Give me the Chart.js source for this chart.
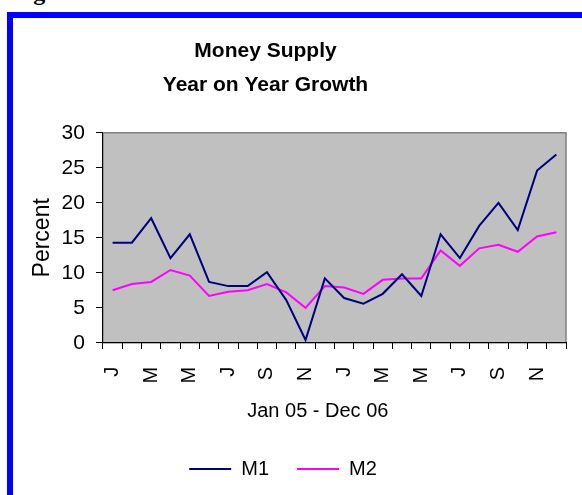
<!DOCTYPE html>
<html>
<head>
<meta charset="utf-8">
<script src="https://cdn.jsdelivr.net/npm/chart.js@4"></script>
<style>
  body { margin: 0; width: 582px; height: 495px; overflow: hidden; position: relative; background: #fff; }
  #frame { position: absolute; left: 7px; top: 12px; width: 700px; height: 600px; border: 6px solid #0000ff; }
  #cap { position: absolute; left: 12px; top: -20px; font: bold 24px/24px "Liberation Serif", serif; color: #000; }
  #moneyChart { position: absolute; left: 0; top: 0; }
</style>
</head>
<body>
<div id="cap">Figure</div>
<div id="frame"></div>
<canvas id="moneyChart" width="582" height="495"></canvas>
<script>
var months = ['Jan 05','Feb 05','Mar 05','Apr 05','May 05','Jun 05','Jul 05','Aug 05','Sep 05','Oct 05','Nov 05','Dec 05',
              'Jan 06','Feb 06','Mar 06','Apr 06','May 06','Jun 06','Jul 06','Aug 06','Sep 06','Oct 06','Nov 06','Dec 06'];
var tickLabels = ['J','','M','','M','','J','','S','','N','','J','','M','','M','','J','','S','','N',''];
var m1 = [14.3, 14.3, 17.8, 12.1, 15.5, 8.7, 8.1, 8.1, 10.1, 6.1, 0.4, 9.2,
          6.4, 5.6, 7.0, 9.8, 6.7, 15.5, 12.1, 16.7, 20.0, 16.1, 24.6, 26.9];
var m2 = [7.5, 8.4, 8.7, 10.4, 9.6, 6.7, 7.3, 7.5, 8.4, 7.2, 5.0, 8.1,
          7.9, 7.0, 9.0, 9.2, 9.2, 13.2, 11.0, 13.5, 14.0, 13.0, 15.2, 15.8];

var fontName = '"Liberation Sans", Arial, sans-serif';

// grey plot background like the old spreadsheet chart
var plotBg = {
  id: 'plotBg',
  beforeDraw: function(chart) {
    var a = chart.chartArea, ctx = chart.ctx;
    ctx.save();
    ctx.fillStyle = '#c0c0c0';
    ctx.fillRect(a.left, a.top, a.right - a.left, a.bottom - a.top);
    ctx.strokeStyle = '#808080';
    ctx.lineWidth = 1.5;
    ctx.strokeRect(a.left, a.top, a.right - a.left, a.bottom - a.top);
    ctx.restore();
  }
};

var ctx = document.getElementById('moneyChart').getContext('2d');
var myChart = new Chart(ctx, {
  type: 'line',
  data: {
    labels: months,
    datasets: [
      { label: 'M1', data: m1, borderColor: '#000080', backgroundColor: '#000080', borderWidth: 2, pointRadius: 0, tension: 0 },
      { label: 'M2', data: m2, borderColor: '#ff00ff', backgroundColor: '#ff00ff', borderWidth: 2, pointRadius: 0, tension: 0 }
    ]
  },
  options: {
    responsive: false,
    animation: false,
    layout: { padding: { top: 0, left: 0, right: 16, bottom: 6 } },
    plugins: {
      title: {
        display: true,
        text: ['Money Supply      ', 'Year on Year Growth      '],
        color: '#000',
        font: { family: fontName, size: 21, weight: 'bold', lineHeight: 1.59 },
        padding: { top: 35, bottom: 31 }
      },
      legend: {
        position: 'bottom',
        labels: {
          color: '#000',
          font: { family: fontName, size: 20 },
          usePointStyle: true,
          pointStyle: 'line',
          pointStyleWidth: 42,
          padding: 28
        }
      },
      tooltip: { enabled: false }
    },
    scales: {
      x: {
        offset: true,
        // long tick slot, only the first 6px drawn, keeps the labels low
        grid: { offset: true, drawOnChartArea: false, tickLength: 24, tickBorderDash: [6, 100], color: '#000' },
        border: { color: '#000', width: 1 },
        ticks: {
          autoSkip: false, minRotation: 90, maxRotation: 90, padding: 0, color: '#000',
          font: { family: fontName, size: 20 },
          callback: function(v, i) { return tickLabels[i]; }
        },
        title: {
          display: true, text: 'Jan 05 - Dec 06      ', color: '#000',
          font: { family: fontName, size: 20, lineHeight: 1.2 },
          padding: { top: 16, bottom: 7.5 }
        }
      },
      y: {
        min: 0, max: 30,
        grid: { drawOnChartArea: false, tickLength: 13, tickBorderDash: [6.5, 20], tickBorderDashOffset: 20.5, color: '#000' },
        border: { color: '#000', width: 1 },
        ticks: { stepSize: 5, padding: 5, color: '#000', font: { family: fontName, size: 21 } },
        title: {
          display: true, text: 'Percent', color: '#000',
          font: { family: fontName, size: 23, lineHeight: 1.2 },
          padding: { top: 29, bottom: 0 }
        }
      }
    }
  },
  plugins: [plotBg]
});
</script>
</body>
</html>
